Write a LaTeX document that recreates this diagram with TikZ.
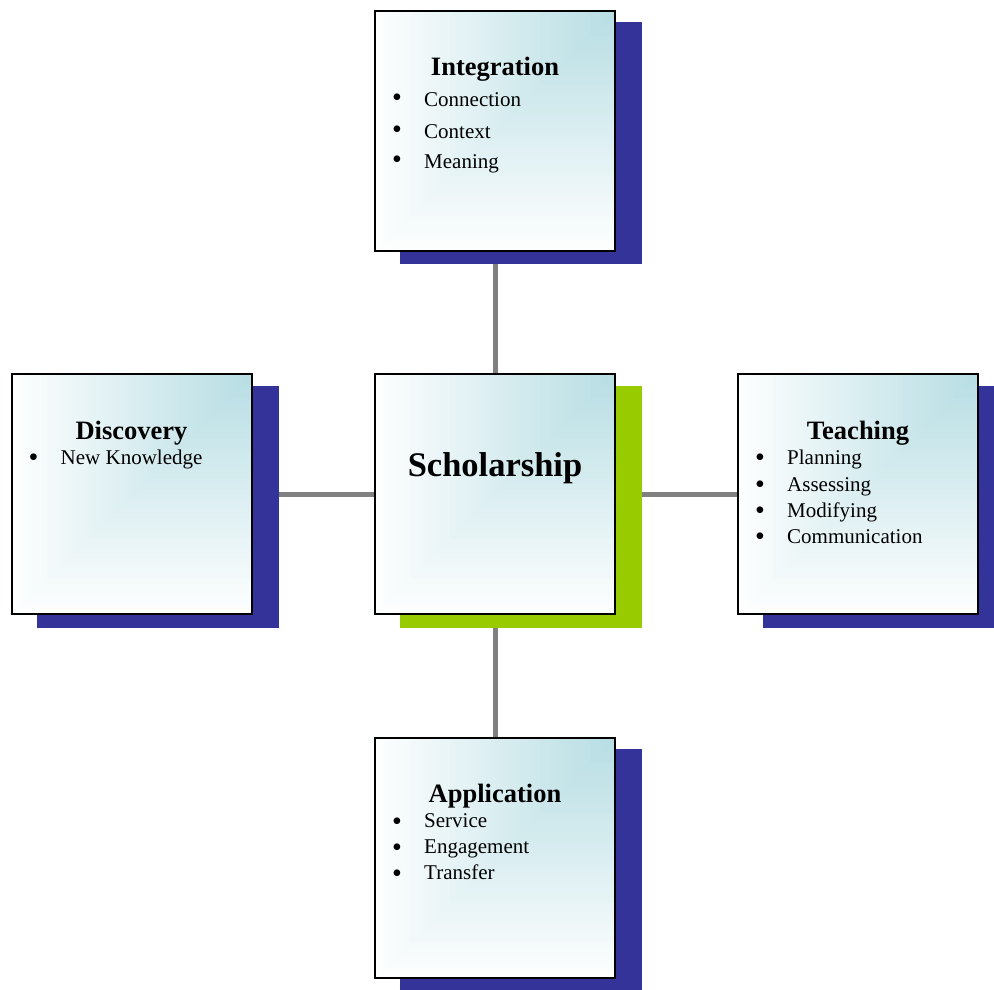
\documentclass[tikz,border=0pt]{standalone}
\usepackage{fontspec}
\setmainfont{Liberation Serif}
\usetikzlibrary{shadows,backgrounds}
\definecolor{boxteal}{HTML}{B6DDE3}
\definecolor{shadowblue}{HTML}{333399}
\definecolor{shadowgreen}{HTML}{99CC00}
\definecolor{conngray}{HTML}{808080}
\newcommand\bul{\makebox[30.5pt][l]{\hspace*{-1.5pt}\raisebox{-2.5pt}{\fontsize{28}{28}\selectfont\textbullet}}}
\newcommand\bulhi{\makebox[30.5pt][l]{\hspace*{-1.5pt}\raisebox{0.5pt}{\fontsize{28}{28}\selectfont\textbullet}}}
\tikzset{
  cornergrad/.style={path picture={
    \foreach \s in {245,240,...,5}{
      \pgfmathsetmacro\p{100*(1-\s/245)}
      \fill[boxteal!\p!white] (path picture bounding box.north east) rectangle ++(-\s pt,-\s pt);
    }}},
  box/.style={draw=black, line width=2pt, fill=white, minimum width=240pt,
    minimum height=240pt, inner sep=0pt, cornergrad,
    drop shadow={shadow xshift=26pt, shadow yshift=-12.5pt, fill=#1, draw=#1, opacity=1}},
  box/.default=shadowblue,
  ttl/.style={anchor=base, inner sep=0pt, font=\fontsize{26.5}{30}\selectfont\bfseries},
  bigttl/.style={anchor=base, inner sep=0pt, font=\fontsize{34.5}{40}\selectfont\bfseries},
  item/.style={anchor=base west, inner sep=0pt, font=\fontsize{21}{24}\selectfont},
  conn/.style={draw=conngray, line width=5pt}
}
\begin{document}
\begin{tikzpicture}[x=1pt,y=1pt]
\useasboundingbox (0,0) rectangle (994,-989);
% boxes
\node[box] (int) at (495,-130.5) {};
\node[box] (disc) at (131.5,-494) {};
\node[box=shadowgreen] (sch) at (495,-494) {};
\node[box] (teach) at (858,-494) {};
\node[box] (app) at (495,-857.5) {};
% connectors
\begin{scope}[on background layer]
  \draw[conn] (sch.center) -- (int.center);
  \draw[conn] (sch.center) -- (disc.center);
  \draw[conn] (sch.center) -- (teach.center);
  \draw[conn] (sch.center) -- (app.center);
\end{scope}
% Integration
\node[ttl] (intT) at ([yshift=-65.5pt]int.north) {Integration};
\node[item] (int1) at ([xshift=19.5pt,yshift=-97pt]int.north west) {\bulhi Connection};
\node[item] (int2) at ([xshift=19.5pt,yshift=-129pt]int.north west) {\bulhi Context};
\node[item] (int3) at ([xshift=19.5pt,yshift=-159pt]int.north west) {\bulhi Meaning};
% Discovery
\node[ttl] (discT) at ([yshift=-66pt]disc.north) {Discovery};
\node[item] (disc1) at ([xshift=19.5pt,yshift=-91pt]disc.north west) {\bul New Knowledge};
% Scholarship
\node[bigttl] (schT) at ([yshift=-103pt]sch.north) {Scholarship};
% Teaching
\node[ttl] (teachT) at ([yshift=-66pt]teach.north) {Teaching};
\node[item] (teach1) at ([xshift=19.5pt,yshift=-91pt]teach.north west) {\bul Planning};
\node[item] (teach2) at ([xshift=19.5pt,yshift=-118pt]teach.north west) {\bul Assessing};
\node[item] (teach3) at ([xshift=19.5pt,yshift=-144pt]teach.north west) {\bul Modifying};
\node[item] (teach4) at ([xshift=19.5pt,yshift=-170pt]teach.north west) {\bul Communication};
% Application
\node[ttl] (appT) at ([yshift=-66pt]app.north) {Application};
\node[item] (app1) at ([xshift=19.5pt,yshift=-91pt]app.north west) {\bul Service};
\node[item] (app2) at ([xshift=19.5pt,yshift=-117pt]app.north west) {\bul Engagement};
\node[item] (app3) at ([xshift=19.5pt,yshift=-143pt]app.north west) {\bul Transfer};
\end{tikzpicture}
\end{document}
